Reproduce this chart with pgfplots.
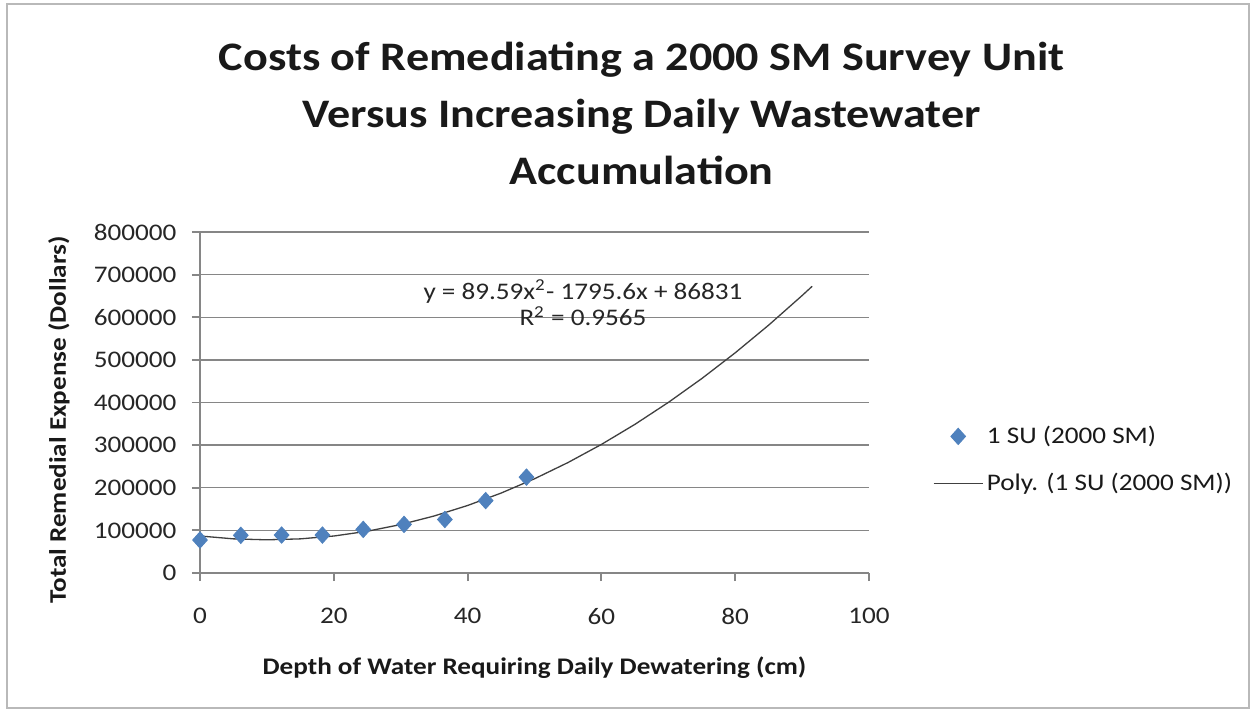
\documentclass[border=0pt]{standalone}
\usepackage{fontspec}
\setmainfont{Carlito}[FakeStretch=1.14]
\usepackage{pgfplots}
\pgfplotsset{compat=1.18}
\definecolor{exblue}{HTML}{4F81BD}
\definecolor{axgray}{HTML}{868686}
\pgfplotsset{
  legmark/.style={legend image code/.code={\draw[##1, mark repeat=2, mark phase=2] plot coordinates {(0pt,0pt) (10.3pt,0pt) (20.6pt,0pt)};}},
  legline/.style={legend image code/.code={\draw[##1] (0pt,0pt) -- (20.6pt,0pt);}},
}
\begin{document}
\begin{tikzpicture}
\path (0,0) rectangle (525.84pt,-299.04pt);
\draw[gray!55, line width=0.6pt] (2.94pt,-1.68pt) rectangle (524.6pt,-297.4pt);
\node[font=\fontsize{17}{24}\selectfont\bfseries, align=center, anchor=center, text=black!90] at (269.5pt,-47.5pt)
 {Costs of Remediating a 2000 SM Survey Unit\\Versus Increasing Daily Wastewater\\Accumulation};
\begin{axis}[
  at={(84pt,-240.66pt)}, anchor=south west,
  scale only axis, width=280.98pt, height=143.22pt,
  xmin=0, xmax=100, ymin=0, ymax=800000,
  xtick={0,20,...,100}, ytick={0,100000,...,800000},
  scaled y ticks=false, scaled x ticks=false,
  /pgf/number format/assume math mode=true,
  yticklabel style={/pgf/number format/fixed, /pgf/number format/1000 sep={}, xshift=-3pt},
  xticklabel style={yshift=-8pt},
  tick label style={font=\fontsize{10}{12}\selectfont, text=black!85},
  axis x line*=bottom, axis y line*=left,
  axis line style={axgray, line width=0.8pt},
  tick align=outside, major tick length=3.4pt,
  tick style={axgray, line width=0.8pt},
  ymajorgrids, grid style={axgray, line width=0.6pt},
  xlabel={Depth of Water Requiring Daily Dewatering (cm)},
  ylabel={Total Remedial Expense (Dollars)},
  xlabel style={at={(axis description cs:0.5,-0.2786)}, anchor=center, font=\fontsize{10}{12}\selectfont\bfseries, text=black!90},
  ylabel style={at={(axis description cs:-0.211,0.4487)}, anchor=center, font=\fontsize{10}{12}\selectfont\bfseries, text=black!90},
  clip=false,
  legend cell align=left,
  legend style={at={(axis description cs:1.0957,0.3314)}, anchor=west, draw=none, fill=none,
    inner sep=0pt, outer sep=0pt, row sep=8pt, nodes={inner sep=1.5pt},
    font=\fontsize{10}{12}\selectfont, text=black!90},
]
\addplot[only marks, mark=diamond*, mark size=3.4pt, mark options={xscale=1.2}, color=exblue, legmark]
 coordinates {
 (0,77400) (6.1,88400) (12.2,89000) (18.3,89000) (24.4,102300)
 (30.5,114000) (36.6,125600) (42.7,169800) (48.8,224900)
 };
\addlegendentry{1 SU (2000 SM)}
\addplot[black!75, line width=0.55pt, legline]
 coordinates {
 (0,86831) (5,80093) (10,77834) (15,80055) (20,86755) (25,97935)
 (30,113594) (35,133733) (40,158351) (45,187449) (50,221026)
 (55,259083) (60,301619) (65,348635) (70,400130) (75,456105)
 (80,516559) (85,581493) (90,650906) (91.5,672594)
 };
\addlegendentry{Poly. (1 SU (2000 SM))}
\node[align=center, font=\fontsize{10}{11}\selectfont, text=black!85] at (axis cs:57.25,633400)
 {y = 89.59x\textsuperscript{2}- 1795.6x + 86831\\R\textsuperscript{2} = 0.9565};
\end{axis}
\end{tikzpicture}
\end{document}
